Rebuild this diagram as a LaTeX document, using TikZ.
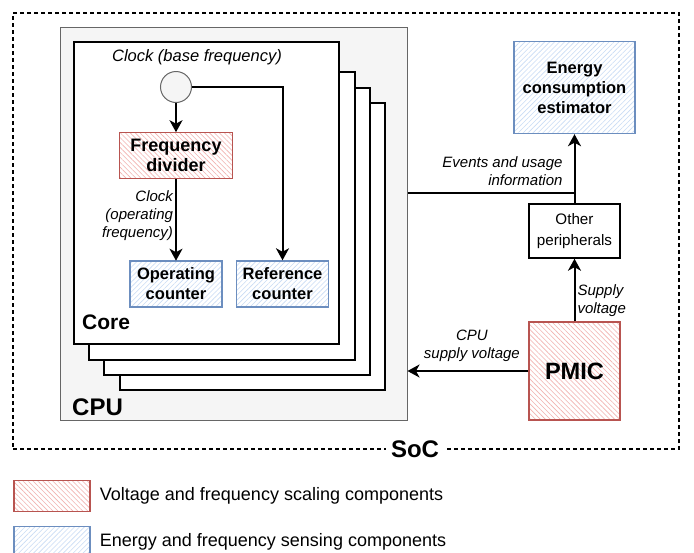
\documentclass[tikz,border=0pt]{standalone}
\usepackage{fontspec}
\setmainfont{Liberation Sans}
\usetikzlibrary{positioning,arrows.meta,patterns.meta}

\definecolor{vfred}{HTML}{B85450}
\definecolor{vfhatch}{HTML}{F2B2AF}
\definecolor{esblue}{HTML}{6C8EBF}
\definecolor{eshatch}{HTML}{C9DCF5}
\definecolor{cpugray}{HTML}{F5F5F5}
\definecolor{cpuedge}{HTML}{666666}

\begin{document}
\begin{tikzpicture}[x=1pt, y=-1pt,
  font=\fontsize{15}{18}\selectfont,
  vfbox/.style={draw=vfred, line width=1.4pt, preaction={fill=white},
                pattern={Lines[angle=-45, distance=3.5pt, line width=0.6pt]},
                pattern color=vfhatch, align=center, inner sep=0pt,
                font=\bfseries\fontsize{18}{20}\selectfont},
  esbox/.style={draw=esblue, line width=1.4pt, preaction={fill=white},
                pattern={Lines[angle=45, distance=3.5pt, line width=0.6pt]},
                pattern color=eshatch, align=center, inner sep=0pt,
                font=\bfseries\fontsize{16.5}{20}\selectfont},
  card/.style={draw, fill=white, line width=1.4pt, inner sep=0pt},
  cpubox/.style={draw=cpuedge, fill=cpugray, line width=1pt, inner sep=0pt},
  socbox/.style={draw, dash pattern=on 4pt off 3pt, line width=1.3pt, inner sep=0pt},
  arr/.style={line width=2pt, -{Stealth[length=12pt, width=13pt, inset=3.5pt]}},
  lbl/.style={font=\itshape\fontsize{15}{18}\selectfont, align=center, inner sep=2pt},
  title/.style={font=\bfseries\fontsize{24}{26}\selectfont, inner sep=0pt},
  legtxt/.style={font=\fontsize{18}{21}\selectfont, inner sep=2pt}]

\useasboundingbox (0,0) rectangle (694,552);

% ---- SoC frame ----
\node[socbox, minimum width=666pt, minimum height=436pt] (soc) at (346,231) {};
\node[title, fill=white, inner xsep=5pt, inner ysep=2pt] (soclbl) at (415,449) {SoC};

% ---- CPU with stacked cores ----
\node[cpubox, minimum width=347pt, minimum height=393pt] (cpu) at (233.5,223.5) {};
\node[title, anchor=west] (cpulbl) at (72,407) {CPU};

\node[card, minimum width=265pt, minimum height=287pt] (card3) at (252.5,246.5) {};
\node[card, minimum width=266pt, minimum height=287pt] (card2) at (237,231.5) {};
\node[card, minimum width=266pt, minimum height=288pt] (card1) at (222,216) {};
\node[card, minimum width=265pt, minimum height=302pt] (core) at (206.5,193) {};
\node[title, font=\bfseries\fontsize{21}{24}\selectfont, anchor=west] (corelbl) at (82,322) {Core};

% ---- clock tree inside the core ----
\node[lbl, font=\itshape\fontsize{16.5}{19}\selectfont] (clklbl) at (197,57) {Clock (base frequency)};
\node[circle, draw=cpuedge, fill=cpugray, line width=1pt, minimum size=31pt, inner sep=0pt] (clk) at (176,87) {};
\node[vfbox, minimum width=113pt, minimum height=46pt] (div) at (176,155.5) {Frequency\\divider};
\node[esbox, minimum width=92pt, minimum height=46pt] (opc) at (176,284) {Operating\\counter};
\node[esbox, minimum width=92pt, minimum height=46pt] (refc) at (282.5,284) {Reference\\counter};

\draw[arr] (clk) -- (div);
\draw[arr] (div) -- node[lbl, left, align=right, yshift=4pt] {Clock\\(operating\\frequency)} (opc);
\draw[arr] (clk) -| (refc);

% ---- right column ----
\node[esbox, minimum width=121pt, minimum height=92pt] (est) at (574.5,87.5) {Energy\\consumption\\estimator};
\node[draw, fill=white, line width=1.4pt, minimum width=91pt, minimum height=54pt, align=center,
      inner sep=0pt, font=\fontsize{15.2}{21}\selectfont] (periph) at (574.5,231) {Other\\peripherals};
\node[vfbox, minimum width=91pt, minimum height=98pt, font=\bfseries\fontsize{23.6}{26}\selectfont] (pmic) at (574.5,371) {PMIC};

\coordinate (evtjoin) at (574.5,193);
\draw[line width=2pt] (cpu.east |- evtjoin) -- (evtjoin);
\draw[arr] (periph) -- node[lbl, left=9pt, align=right, yshift=-2pt] {Events and usage\\information} (est);
\draw[arr] (pmic) -- node[lbl, right, align=left, yshift=-11pt] {Supply\\voltage} (periph);
\draw[arr] (pmic) -- node[lbl, above=6pt, xshift=4pt] {CPU\\supply voltage} (cpu.east |- pmic);

% ---- legend ----
\node[vfbox, minimum width=76pt, minimum height=31pt] (legvf) at (52,496) {};
\node[legtxt, right=7pt of legvf] (legvftxt) {Voltage and frequency scaling components};
\node[esbox, minimum width=76pt, minimum height=31pt] (leges) at (52,542) {};
\node[legtxt, right=7pt of leges] (legestxt) {Energy and frequency sensing components};
\end{tikzpicture}
\end{document}
